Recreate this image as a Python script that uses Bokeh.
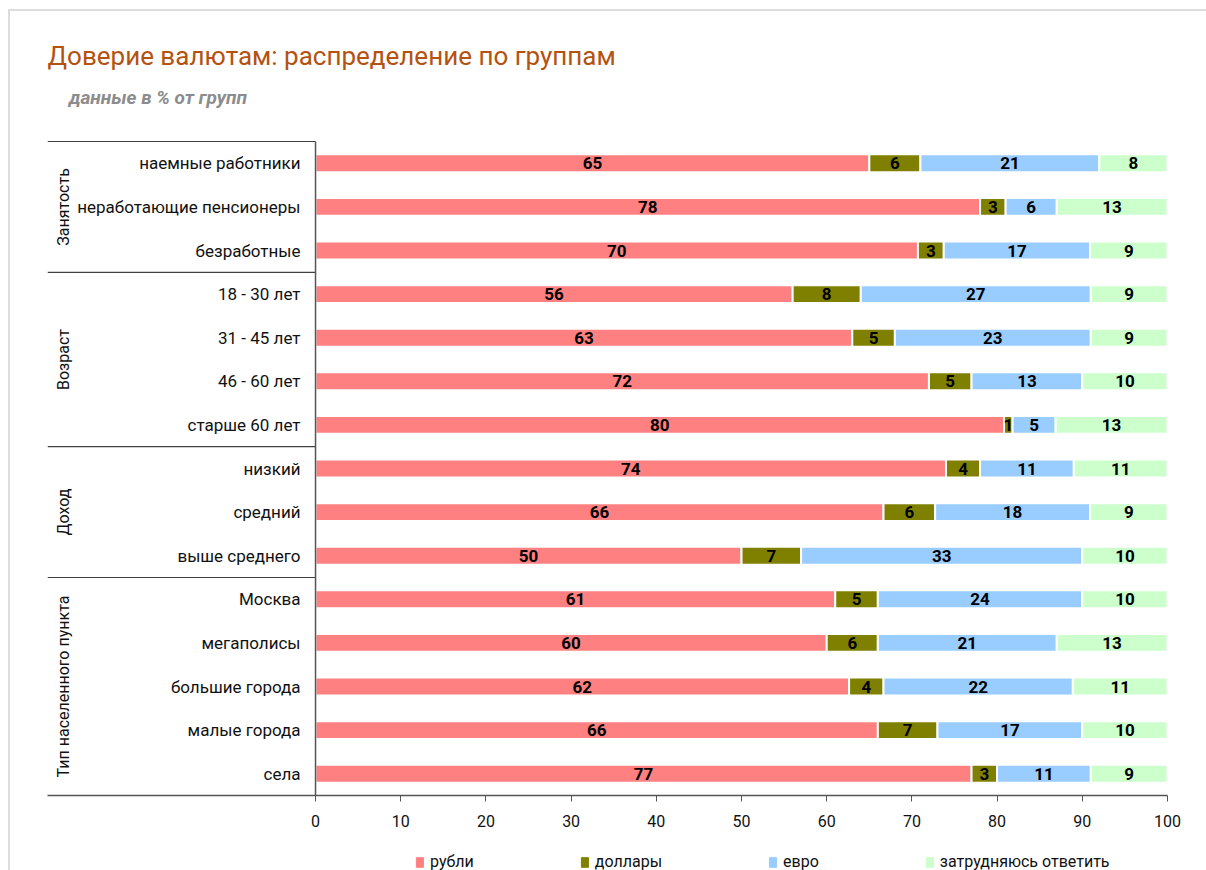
from bokeh.plotting import figure
from bokeh.layouts import column
from bokeh.models import ColumnDataSource, Range1d, FixedTicker, Legend, LegendItem
from bokeh.core.properties import value
from bokeh.embed import file_html
from bokeh.resources import INLINE

# ---------------- data ----------------
title_text = "Доверие валютам: распределение по группам"
subtitle_text = "данные в % от групп"
categories = [
    "наемные работники", "неработающие пенсионеры", "безработные",
    "18 - 30 лет", "31 - 45 лет", "46 - 60 лет", "старше 60 лет",
    "низкий", "средний", "выше среднего",
    "Москва", "мегаполисы", "большие города", "малые города", "села",
]
groups = ["Занятость", "Возраст", "Доход", "Тип населенного пункта"]
group_sizes = [3, 4, 3, 5]

rubles = [65, 78, 70, 56, 63, 72, 80, 74, 66, 50, 61, 60, 62, 66, 77]
dollars = [6, 3, 3, 8, 5, 5, 1, 4, 6, 7, 5, 6, 4, 7, 3]
euro = [21, 6, 17, 27, 23, 13, 5, 11, 18, 33, 24, 21, 22, 17, 11]
hard = [8, 13, 9, 9, 9, 10, 13, 11, 9, 10, 10, 13, 11, 10, 9]

series_names = ["рубли", "доллары", "евро", "затрудняюсь ответить"]
series_keys = ["rub", "usd", "eur", "hard"]
colors = ["#FF8080", "#808000", "#99CCFF", "#CCFFCC"]
x_ticks = [0, 10, 20, 30, 40, 50, 60, 70, 80, 90, 100]

FONT = "Roboto"

# ---------------- derived (100% stacked) ----------------
n = len(categories)
ys = list(range(n))
raw = [rubles, dollars, euro, hard]
totals = [sum(s[i] for s in raw) for i in range(n)]
shares = [[s[i] * 100.0 / totals[i] for i in range(n)] for s in raw]

data = {"y": ys, "cat": categories}
for k, sh in zip(series_keys, shares):
    data[k] = sh
source = ColumnDataSource(data)

lab_x, lab_y, lab_t = [], [], []
for i in range(n):
    cum = 0.0
    for s_raw, sh in zip(raw, shares):
        lab_x.append(cum + sh[i] / 2.0)
        lab_y.append(i)
        lab_t.append(str(s_raw[i]))
        cum += sh[i]
lab_src = ColumnDataSource(dict(x=lab_x, y=lab_y, t=lab_t))

# ---------------- main figure ----------------
X_LEFT = -31.46          # left edge of the frame (group-label column)
Y_TOP = -3.734           # top edge of the frame (room for the title)
p = figure(
    width=1206, height=840,
    x_range=Range1d(X_LEFT, 100), y_range=Range1d(n - 0.5, Y_TOP),
    output_backend="svg", toolbar_location=None, title_location=None,
    min_border_left=47, min_border_right=39, min_border_top=0, min_border_bottom=45,
)
p.outline_line_color = None
p.grid.visible = False
p.yaxis.visible = False
p.background_fill_color = None
p.border_fill_color = None

# title & subtitle
p.text(x=[X_LEFT], y=[-2.47], text=[title_text], text_align="left", text_baseline="middle",
       text_font=value(FONT), text_font_size="26px", text_color="#B4520F")
p.text(x=[-28.95], y=[-1.52], text=[subtitle_text], text_align="left", text_baseline="middle",
       text_font=value(FONT), text_font_size="19px", text_font_style="bold italic",
       text_color="#8C8C8C")

renderers = p.hbar_stack(series_keys, y="y", height=0.41, color=colors,
                         line_color="white", line_width=2, source=source)

# value labels
p.text(x="x", y="y", text="t", source=lab_src, text_align="center", text_baseline="middle",
       text_font=value(FONT), text_font_size="17px", text_font_style="bold", text_color="#000000")

# category labels
p.text(x=[-1.76] * n, y=ys, text=categories, text_align="right", text_baseline="middle",
       text_font=value(FONT), text_font_size="17px", text_color="#111111")

# group separators and vertical axis line
bounds = [0]
for g in group_sizes:
    bounds.append(bounds[-1] + g)
sep_y = [b - 0.5 for b in bounds[:-1]]
p.segment(x0=[X_LEFT] * len(sep_y), x1=[0] * len(sep_y), y0=sep_y, y1=sep_y,
          line_color="#404040", line_width=1.2)
p.segment(x0=[0], x1=[0], y0=[-0.5], y1=[n - 0.5], line_color="#555555", line_width=1.5)

# group labels (rotated)
g_centers = [(bounds[i] + bounds[i + 1] - 1) / 2.0 for i in range(len(groups))]
p.text(x=[-29.6] * len(groups), y=g_centers, text=groups, angle=1.5708,
       text_align="center", text_baseline="middle",
       text_font=value(FONT), text_font_size="16px", text_color="#111111")

# x axis
p.xaxis.ticker = FixedTicker(ticks=x_ticks)
p.xaxis.major_tick_out = 6
p.xaxis.major_tick_in = 0
p.xaxis.minor_tick_line_color = None
p.xaxis.axis_line_color = "#555555"
p.xaxis.axis_line_width = 1.5
p.xaxis.major_tick_line_color = "#555555"
p.xaxis.major_label_standoff = 13
p.xaxis.major_label_text_font = FONT
p.xaxis.major_label_text_font_size = "16px"
p.xaxis.major_label_text_color = "#111111"

# ---------------- legend strip ----------------
q = figure(
    width=1206, height=30, x_range=Range1d(0, 1206), y_range=Range1d(0, 30),
    output_backend="svg", toolbar_location=None, title_location=None,
    min_border_left=0, min_border_right=0, min_border_top=0, min_border_bottom=0,
)
q.axis.visible = False
q.grid.visible = False
q.outline_line_color = None
q.background_fill_color = None
q.border_fill_color = None
dummies = [q.rect(x=[-100], y=[-100], width=1, height=1, color=c) for c in colors]
legend = Legend(items=[LegendItem(label=nm, renderers=[r]) for nm, r in zip(series_names, dummies)],
                orientation="horizontal", location=(368, -1),
                glyph_width=9, glyph_height=12, label_standoff=6, spacing=106,
                label_text_font=FONT, label_text_font_size="16px", label_text_color="#111111",
                label_height=18, padding=0, margin=0,
                border_line_color=None, background_fill_alpha=0)
q.add_layout(legend, "center")

# light container frame (top and left edges) drawn as the page background
frame_css = ("linear-gradient(#DDDDDD, #DDDDDD) 8px 9px / 2px 100% no-repeat, "
             "linear-gradient(#DDDDDD, #DDDDDD) 8px 9px / 100% 2px no-repeat, #FFFFFF")
layout = column(p, q, spacing=0, styles={"background": frame_css})
open("out.html", "w").write(file_html(layout, INLINE))
